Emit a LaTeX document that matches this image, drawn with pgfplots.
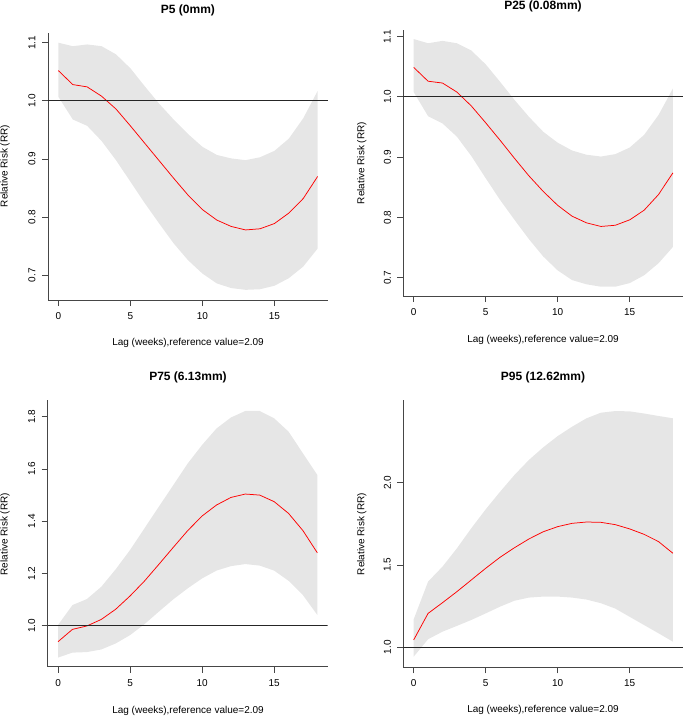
\documentclass[border=0pt]{standalone}
\usepackage{pgfplots}
\pgfplotsset{compat=1.18}
\usepackage{pgfplotstable}
\usepgfplotslibrary{fillbetween}
\usepackage{fontspec}
\setmainfont{Liberation Sans}
\definecolor{band}{RGB}{230,230,230}
\definecolor{axgray}{RGB}{70,70,70}

\pgfplotstableread{
lag rr lo hi
0 1.052 1.007 1.100
1 1.028 0.968 1.094
2 1.024 0.957 1.097
3 1.008 0.931 1.094
4 0.986 0.898 1.080
5 0.957 0.861 1.056
6 0.927 0.824 1.025
7 0.897 0.789 0.995
8 0.867 0.755 0.968
9 0.838 0.726 0.943
10 0.813 0.703 0.921
11 0.795 0.686 0.907
12 0.784 0.678 0.901
13 0.778 0.675 0.898
14 0.780 0.676 0.903
15 0.789 0.682 0.914
16 0.807 0.695 0.935
17 0.832 0.715 0.970
18 0.870 0.746 1.017
}\pfive

\pgfplotstableread{
lag rr lo hi
0 1.049 1.008 1.096
1 1.026 0.968 1.089
2 1.023 0.956 1.093
3 1.008 0.934 1.089
4 0.985 0.902 1.077
5 0.957 0.865 1.054
6 0.928 0.829 1.025
7 0.898 0.796 0.995
8 0.869 0.764 0.967
9 0.843 0.735 0.942
10 0.820 0.712 0.924
11 0.802 0.696 0.911
12 0.791 0.689 0.904
13 0.785 0.685 0.901
14 0.787 0.685 0.905
15 0.796 0.691 0.916
16 0.812 0.704 0.937
17 0.838 0.724 0.970
18 0.874 0.751 1.014
}\ptwentyfive

\pgfplotstableread{
lag rr lo hi
0 0.939 0.878 1.003
1 0.986 0.897 1.079
2 0.999 0.899 1.102
3 1.024 0.909 1.149
4 1.063 0.932 1.216
5 1.114 0.964 1.290
6 1.171 1.006 1.373
7 1.235 1.054 1.456
8 1.300 1.101 1.538
9 1.364 1.143 1.621
10 1.420 1.181 1.692
11 1.462 1.211 1.755
12 1.491 1.228 1.797
13 1.504 1.236 1.822
14 1.500 1.230 1.822
15 1.475 1.211 1.794
16 1.430 1.172 1.743
17 1.364 1.117 1.660
18 1.279 1.041 1.577
}\pseventyfive

\pgfplotstableread{
lag rr lo hi
0 1.045 0.943 1.170
1 1.206 1.049 1.399
2 1.271 1.095 1.490
3 1.338 1.130 1.601
4 1.409 1.166 1.723
5 1.480 1.206 1.838
6 1.547 1.247 1.945
7 1.605 1.283 2.047
8 1.658 1.302 2.138
9 1.702 1.308 2.215
10 1.733 1.308 2.283
11 1.753 1.302 2.340
12 1.761 1.290 2.391
13 1.759 1.268 2.425
14 1.745 1.235 2.435
15 1.719 1.185 2.433
16 1.686 1.135 2.420
17 1.642 1.085 2.405
18 1.571 1.034 2.391
}\pninetyfive

\pgfplotsset{
  rpanel/.style={
    scale only axis, width=280bp,
    axis lines=left, axis line style={-, axgray, line width=0.8bp},
    xmin=-0.72, xmax=18.72, xtick={0,5,10,15},
    tick align=outside, major tick length=6bp,
    tick style={axgray, line width=0.8bp},
    ticklabel style={font=\fontsize{10bp}{12bp}\selectfont},
    /pgf/number format/assume math mode=true,
    xticklabel style={anchor=center, yshift=-10.2bp},
    yticklabel style={xshift=-10bp, rotate=90, anchor=center,
      /pgf/number format/.cd, fixed, fixed zerofill, precision=1},
  },
}
\newcommand{\panel}[1]{%
  \addplot[name path=up, draw=none] table[x=lag, y=hi] {#1};
  \addplot[name path=lo, draw=none] table[x=lag, y=lo] {#1};
  \addplot[band, draw=none] fill between[of=up and lo];
  \addplot[red, line width=0.75bp] table[x=lag, y=rr] {#1};
  \addplot[black!85, line width=0.8bp] coordinates {(-0.72,1) (18.72,1)};
}

\begin{document}
\begin{tikzpicture}[x=1bp,y=1bp]

\begin{axis}[rpanel, at={(48bp,-300bp)}, anchor=south west, height=267bp,
  ymin=0.6575, ymax=1.1167, ytick={0.7,0.8,0.9,1.0,1.1}]
\panel{\pfive}
\end{axis}

\begin{axis}[rpanel, at={(403.3bp,-296bp)}, anchor=south west, height=266bp,
  ymin=0.6696, ymax=1.111, ytick={0.7,0.8,0.9,1.0,1.1}]
\panel{\ptwentyfive}
\end{axis}

\begin{axis}[rpanel, at={(47.7bp,-666.7bp)}, anchor=south west, height=266.7bp,
  ymin=0.843, ymax=1.864, ytick={1.0,1.2,1.4,1.6,1.8}]
\panel{\pseventyfive}
\end{axis}

\begin{axis}[rpanel, at={(403.3bp,-667.3bp)}, anchor=south west, height=267.3bp,
  ymin=0.8785, ymax=2.502, ytick={1.0,1.5,2.0}]
\panel{\pninetyfive}
\end{axis}

\tikzset{ttl/.style={font=\fontsize{12bp}{14bp}\selectfont\bfseries, inner sep=0pt, anchor=center},
  lbl/.style={font=\fontsize{10bp}{12bp}\selectfont, inner sep=0pt, anchor=center}}
\node[ttl] at (188,-10) {P5 (0mm)};
\node[ttl] at (543,-6) {P25 (0.08mm)};
\node[ttl] at (188,-377) {P75 (6.13mm)};
\node[ttl] at (543,-377.5) {P95 (12.62mm)};

\node[lbl] at (188,-342.7) {Lag (weeks),reference value=2.09};
\node[lbl] at (543,-340) {Lag (weeks),reference value=2.09};
\node[lbl] at (188,-710.7) {Lag (weeks),reference value=2.09};
\node[lbl] at (543,-709.7) {Lag (weeks),reference value=2.09};

\node[lbl, rotate=90] at (5,-166) {Relative Risk (RR)};
\node[lbl, rotate=90] at (361.7,-163) {Relative Risk (RR)};
\node[lbl, rotate=90] at (5,-534.2) {Relative Risk (RR)};
\node[lbl, rotate=90] at (361.7,-534) {Relative Risk (RR)};

\pgfresetboundingbox
\useasboundingbox (0,0) rectangle (685,-717);
\end{tikzpicture}
\end{document}
